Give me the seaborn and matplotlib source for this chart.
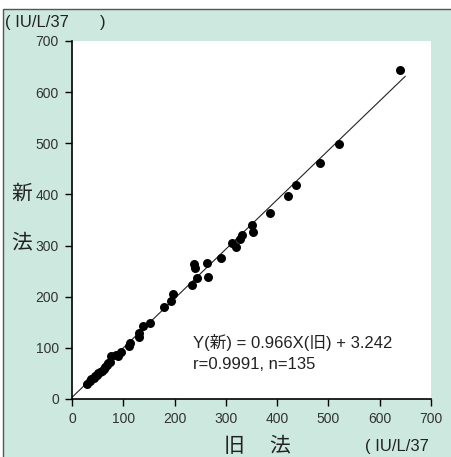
import matplotlib
matplotlib.use("Agg")
import matplotlib.pyplot as plt
from matplotlib.patches import Rectangle
import seaborn as sns
import pandas as pd
import numpy as np

# Paired measurements: old method (x) vs new method (y), IU/L/37℃
old_method = [30, 35, 38, 42, 45, 48, 51, 55, 58, 62, 64, 68, 71, 74, 77, 85, 90, 95,
              112, 113, 130, 131, 139, 153, 179, 194, 197, 234, 238, 240, 243,
              264, 266, 290, 312, 320, 328, 331, 351, 353, 387, 422, 437, 484, 521, 639]
new_method = [29, 36, 40, 42, 44, 47, 50, 53, 55, 58, 63, 66, 70, 72, 84, 86, 84, 92,
              104, 110, 121, 129, 142, 149, 179, 192, 205, 222, 263, 257, 236,
              265, 239, 276, 305, 297, 312, 321, 341, 326, 364, 396, 418, 461, 498, 643]

slope = 0.966
intercept = 3.242
r_value = 0.9991
n_samples = 135
fit_range = [0, 650]

axis_ticks = [0, 100, 200, 300, 400, 500, 600, 700]

bg_green = "#cde8df"
cjk = ["Liberation Sans", "Noto Sans CJK JP", "DejaVu Sans"]

sns.set_style("ticks")
plt.rcParams["font.family"] = cjk

fig = plt.figure(figsize=(4.51, 4.57), dpi=100)
fig.patch.set_facecolor("white")

# green panel with a thin dark frame on the top and left
panel = Rectangle((3 / 451, -0.05), 1.1, 1 - 9 / 457 + 0.05, transform=fig.transFigure,
                  facecolor=bg_green, edgecolor="#555555", linewidth=1.0, zorder=-10)
fig.patches.append(panel)

ax = fig.add_axes([72 / 451, 58 / 457, 359 / 451, 358 / 457])
ax.set_facecolor("white")

df = pd.DataFrame({"old": old_method, "new": new_method})
sns.scatterplot(data=df, x="old", y="new", ax=ax, color="black", s=42,
                edgecolor="black", linewidth=0, zorder=3, legend=False)

fit_x = np.array(fit_range, dtype=float)
fit_df = pd.DataFrame({"x": fit_x, "y": slope * fit_x + intercept})
sns.lineplot(data=fit_df, x="x", y="y", ax=ax, color="#222222", linewidth=0.8, zorder=2)

ax.set_xlim(0, 700)
ax.set_ylim(0, 700)
ax.set_xticks(axis_ticks)
ax.set_yticks(axis_ticks)
ax.set_xlabel("")
ax.set_ylabel("")
for side in ["top", "right"]:
    ax.spines[side].set_visible(False)
for side in ["left", "bottom"]:
    ax.spines[side].set_linewidth(1.2)
    ax.spines[side].set_color("black")
ax.tick_params(axis="both", direction="out", length=5, width=1.0, color="black",
               labelsize=10, labelcolor="#333333", pad=4.5)
for lab in ax.get_xticklabels() + ax.get_yticklabels():
    lab.set_family(["Liberation Sans Narrow", "Liberation Sans"])

ax.text(0.337, 0.157, f"Y(新) = {slope}X(旧) + {intercept}", transform=ax.transAxes,
        fontsize=12, color="#222222", family=cjk, va="center", ha="left")
ax.text(0.337, 0.096, f"r={r_value}, n={n_samples}", transform=ax.transAxes,
        fontsize=12, color="#222222", family=cjk, va="center", ha="left")

# axis titles and units
fig.text(5 / 451, 1 - 22 / 457, "( IU/L/37", fontsize=12, color="#222222",
         family=cjk, va="center", ha="left")
fig.text(100 / 451, 1 - 22 / 457, ")", fontsize=12, color="#222222",
         family=cjk, va="center", ha="left")
fig.text(22 / 451, 1 - 194 / 457, "新", fontsize=15, color="#222222", family=cjk,
         va="center", ha="center")
fig.text(22 / 451, 1 - 243 / 457, "法", fontsize=15, color="#222222", family=cjk,
         va="center", ha="center")
fig.text(234 / 451, 1 - 446 / 457, "旧", fontsize=15, color="#222222", family=cjk,
         va="center", ha="center")
fig.text(280 / 451, 1 - 446 / 457, "法", fontsize=15, color="#222222", family=cjk,
         va="center", ha="center")
fig.text(365 / 451, 1 - 446 / 457, "( IU/L/37", fontsize=12, color="#222222",
         family=cjk, va="center", ha="left")

fig.savefig("out.png", dpi=100)
